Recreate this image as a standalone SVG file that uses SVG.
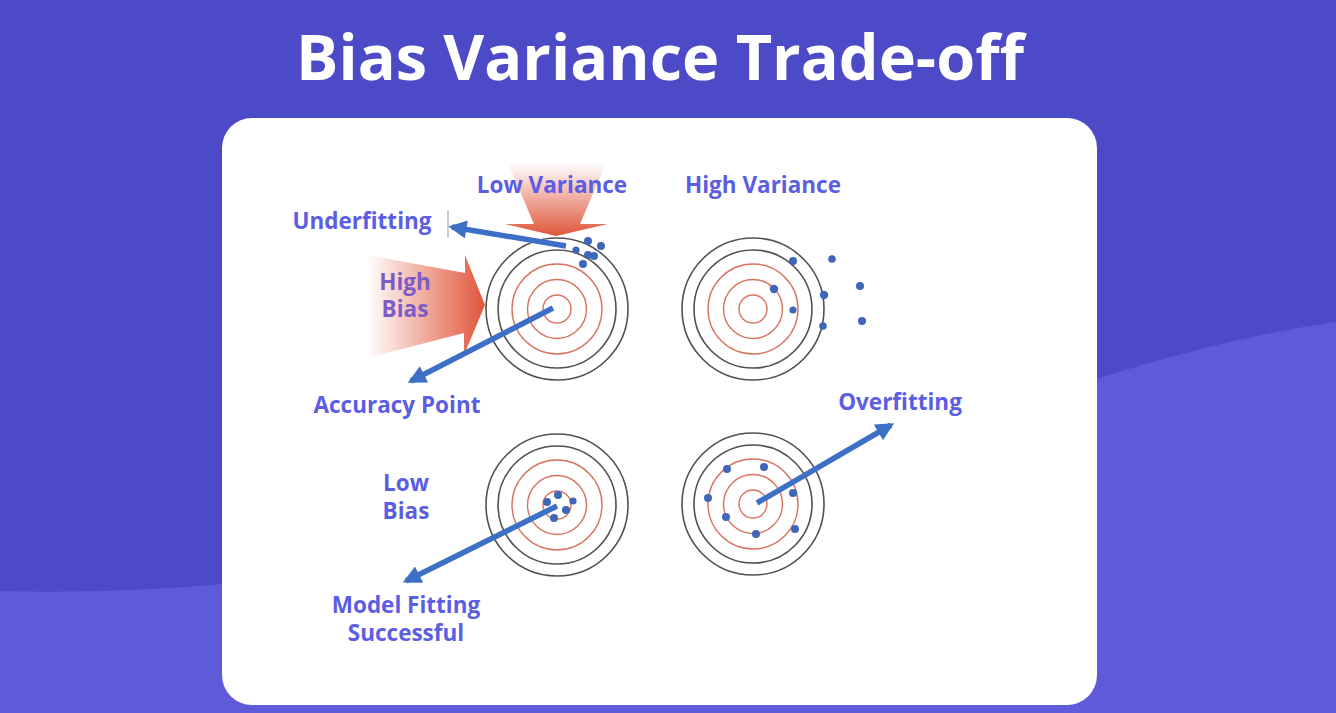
<svg xmlns="http://www.w3.org/2000/svg" width="1336" height="713" viewBox="0 0 1336 713">
<defs>
<style>
.lbl{font-family:"Open Sans","Liberation Sans",sans-serif;font-weight:700;font-size:22.5px;fill:#5b5de3}
.ring-k{fill:none;stroke:#505050;stroke-width:1.6}
.ring-r{fill:none;stroke:#d8735e;stroke-width:1.4}
.dot{fill:#3f66b8}
.conn{stroke:#3d6fc6;stroke-width:5.5;fill:none;marker-end:url(#ah)}
</style>
<marker id="ah" viewBox="0 0 10 10" refX="8" refY="5" markerWidth="3.6" markerHeight="3.3" orient="auto" markerUnits="strokeWidth">
<path d="M0,0 L10,5 L0,10 Z" fill="#3d6fc6"/>
</marker>
<linearGradient id="gv" x1="0" y1="0" x2="0" y2="1">
<stop offset="0" stop-color="#e0553a" stop-opacity="0"/>
<stop offset="0.75" stop-color="#e0553a" stop-opacity="0.75"/>
<stop offset="1" stop-color="#e0553a" stop-opacity="1"/>
</linearGradient>
<linearGradient id="gh" x1="0" y1="0" x2="1" y2="0">
<stop offset="0" stop-color="#e0553a" stop-opacity="0"/>
<stop offset="1" stop-color="#e0553a" stop-opacity="1"/>
</linearGradient>
</defs>
<g id="background">
<rect width="1336" height="713" fill="#4d4ac7"/>
<path d="M0,591 C320,600 700,520 1100,378 C1200,346 1280,330 1336,322 L1336,713 L0,713 Z" fill="#5f5ad9"/>
</g>
<text x="660" y="80" text-anchor="middle" font-family="'Open Sans','Liberation Sans',sans-serif" font-weight="700" font-size="63" fill="#ffffff">Bias Variance Trade-off</text>
<rect id="card" x="222" y="118" width="875" height="587" rx="30" fill="#ffffff"/>
<g id="low-variance-arrow">
<path d="M508,163 L606,163 L580,224 L608,224 L556,236 L505,224 L534,224 Z" fill="url(#gv)"/>
</g>
<g id="high-bias-arrow">
<path d="M367,255 L465,273 L465,255 L485,305 L464,355 L464,333 L367,358 Z" fill="url(#gh)"/>
</g>
<g id="target-tl">
<circle class="ring-k" cx="557" cy="309" r="71"/>
<circle class="ring-k" cx="557" cy="309" r="59"/>
<circle class="ring-r" cx="557" cy="309" r="45"/>
<circle class="ring-r" cx="557" cy="309" r="29.5"/>
<circle class="ring-r" cx="557" cy="309" r="14"/>
<circle class="dot" cx="588" cy="241" r="4"/>
<circle class="dot" cx="601" cy="246" r="4"/>
<circle class="dot" cx="576" cy="250" r="3.6"/>
<circle class="dot" cx="588" cy="255" r="4"/>
<circle class="dot" cx="594" cy="256" r="4"/>
<circle class="dot" cx="583" cy="264" r="4"/>
</g>
<g id="target-tr">
<circle class="ring-k" cx="753" cy="309" r="71"/>
<circle class="ring-k" cx="753" cy="309" r="59"/>
<circle class="ring-r" cx="753" cy="309" r="45"/>
<circle class="ring-r" cx="753" cy="309" r="29.5"/>
<circle class="ring-r" cx="753" cy="309" r="14"/>
<circle class="dot" cx="793" cy="261" r="4"/>
<circle class="dot" cx="832" cy="259" r="3.8"/>
<circle class="dot" cx="774" cy="289" r="4.2"/>
<circle class="dot" cx="824" cy="295" r="4.2"/>
<circle class="dot" cx="860" cy="286" r="4"/>
<circle class="dot" cx="793" cy="310" r="3.6"/>
<circle class="dot" cx="823" cy="326" r="3.8"/>
<circle class="dot" cx="862" cy="321" r="4"/>
</g>
<g id="target-bl">
<circle class="ring-k" cx="557" cy="505" r="71"/>
<circle class="ring-k" cx="557" cy="505" r="59"/>
<circle class="ring-r" cx="557" cy="505" r="45"/>
<circle class="ring-r" cx="557" cy="505" r="29.5"/>
<circle class="ring-r" cx="557" cy="505" r="14"/>
<circle class="dot" cx="558" cy="495" r="4"/>
<circle class="dot" cx="547" cy="502" r="4"/>
<circle class="dot" cx="573" cy="501" r="3.6"/>
<circle class="dot" cx="566" cy="510" r="4"/>
<circle class="dot" cx="554" cy="518" r="4"/>
</g>
<g id="target-br">
<circle class="ring-k" cx="753" cy="504" r="71"/>
<circle class="ring-k" cx="753" cy="504" r="59"/>
<circle class="ring-r" cx="753" cy="504" r="45"/>
<circle class="ring-r" cx="753" cy="504" r="29.5"/>
<circle class="ring-r" cx="753" cy="504" r="14"/>
<circle class="dot" cx="727" cy="469" r="4"/>
<circle class="dot" cx="764" cy="467" r="4"/>
<circle class="dot" cx="708" cy="498" r="4"/>
<circle class="dot" cx="793" cy="493" r="4"/>
<circle class="dot" cx="726" cy="517" r="4"/>
<circle class="dot" cx="756" cy="534" r="4"/>
<circle class="dot" cx="795" cy="529" r="4"/>
</g>
<g id="connectors">
<line class="conn" x1="566" y1="246" x2="452" y2="227"/>
<line class="conn" x1="553" y1="308" x2="411" y2="381"/>
<line class="conn" x1="557" y1="506" x2="406" y2="581"/>
<line class="conn" x1="757" y1="503" x2="891" y2="425"/>
<line x1="448" y1="210" x2="448" y2="238" stroke="#999999" stroke-width="1"/>
</g>
<g id="labels">
<text class="lbl" x="552" y="193" text-anchor="middle">Low Variance</text>
<text class="lbl" x="763" y="193" text-anchor="middle">High Variance</text>
<text class="lbl" x="362" y="229" text-anchor="middle">Underfitting</text>
<text class="lbl" x="405" y="290" text-anchor="middle" style="fill:#7d5cc8">High</text>
<text class="lbl" x="405" y="317" text-anchor="middle" style="fill:#7d5cc8">Bias</text>
<text class="lbl" x="397" y="413" text-anchor="middle">Accuracy Point</text>
<text class="lbl" x="900" y="410" text-anchor="middle">Overfitting</text>
<text class="lbl" x="406" y="491" text-anchor="middle">Low</text>
<text class="lbl" x="406" y="519" text-anchor="middle">Bias</text>
<text class="lbl" x="406" y="613" text-anchor="middle">Model Fitting</text>
<text class="lbl" x="406" y="641" text-anchor="middle">Successful</text>
</g>
</svg>
